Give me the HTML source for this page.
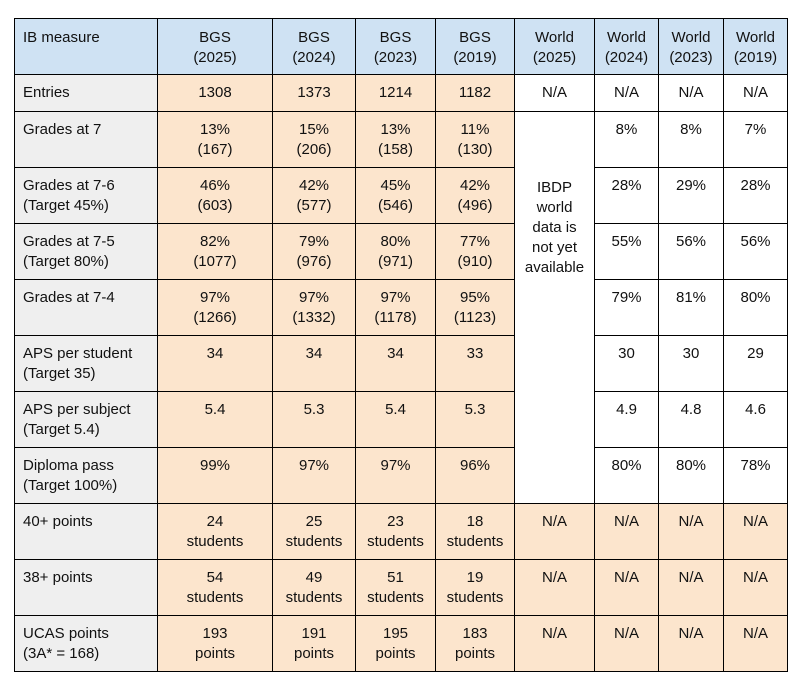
<!DOCTYPE html>
<html><head><meta charset="utf-8"><style>
body{margin:0;background:#fff;width:797px;height:680px;overflow:hidden;font-family:"Liberation Sans",sans-serif;}
table{position:absolute;left:14px;top:18px;border-collapse:collapse;table-layout:fixed;width:773px;}
td{border:1px solid #000;padding:8px 2px 0 2px;vertical-align:top;text-align:center;font-size:15px;line-height:20px;color:#111;}
td.m{text-align:left;padding-left:8px;background:#efefef;}
tr.h td{background:#cfe2f3;padding-top:9px;}
td.b{background:#fce5cd;}
td.w{background:#fff;}
</style></head><body>
<table>
<colgroup><col style="width:143px"><col style="width:115px"><col style="width:83px"><col style="width:80px"><col style="width:79px"><col style="width:80px"><col style="width:64px"><col style="width:65px"><col style="width:64px"></colgroup>
<tr class="h" style="height:56px"><td class="m" style="background:#cfe2f3">IB measure</td><td>BGS<br>(2025)</td><td>BGS<br>(2024)</td><td>BGS<br>(2023)</td><td>BGS<br>(2019)</td><td>World<br>(2025)</td><td>World<br>(2024)</td><td>World<br>(2023)</td><td>World<br>(2019)</td></tr>
<tr style="height:37px"><td class="m">Entries</td><td class="b">1308</td><td class="b">1373</td><td class="b">1214</td><td class="b">1182</td><td class="w">N/A</td><td class="w">N/A</td><td class="w">N/A</td><td class="w">N/A</td></tr>
<tr style="height:56px"><td class="m">Grades at 7</td><td class="b">13%<br>(167)</td><td class="b">15%<br>(206)</td><td class="b">13%<br>(158)</td><td class="b">11%<br>(130)</td><td class="w" rowspan="7" style="padding-top:66px">IBDP<br>world<br>data is<br>not yet<br>available</td><td class="w">8%</td><td class="w">8%</td><td class="w">7%</td></tr>
<tr style="height:56px"><td class="m">Grades at 7-6<br>(Target 45%)</td><td class="b">46%<br>(603)</td><td class="b">42%<br>(577)</td><td class="b">45%<br>(546)</td><td class="b">42%<br>(496)</td><td class="w">28%</td><td class="w">29%</td><td class="w">28%</td></tr>
<tr style="height:56px"><td class="m">Grades at 7-5<br>(Target 80%)</td><td class="b">82%<br>(1077)</td><td class="b">79%<br>(976)</td><td class="b">80%<br>(971)</td><td class="b">77%<br>(910)</td><td class="w">55%</td><td class="w">56%</td><td class="w">56%</td></tr>
<tr style="height:56px"><td class="m">Grades at 7-4</td><td class="b">97%<br>(1266)</td><td class="b">97%<br>(1332)</td><td class="b">97%<br>(1178)</td><td class="b">95%<br>(1123)</td><td class="w">79%</td><td class="w">81%</td><td class="w">80%</td></tr>
<tr style="height:56px"><td class="m">APS per student<br>(Target 35)</td><td class="b">34</td><td class="b">34</td><td class="b">34</td><td class="b">33</td><td class="w">30</td><td class="w">30</td><td class="w">29</td></tr>
<tr style="height:56px"><td class="m">APS per subject<br>(Target 5.4)</td><td class="b">5.4</td><td class="b">5.3</td><td class="b">5.4</td><td class="b">5.3</td><td class="w">4.9</td><td class="w">4.8</td><td class="w">4.6</td></tr>
<tr style="height:56px"><td class="m">Diploma pass<br>(Target 100%)</td><td class="b">99%</td><td class="b">97%</td><td class="b">97%</td><td class="b">96%</td><td class="w">80%</td><td class="w">80%</td><td class="w">78%</td></tr>
<tr style="height:56px"><td class="m">40+ points</td><td class="b">24<br>students</td><td class="b">25<br>students</td><td class="b">23<br>students</td><td class="b">18<br>students</td><td class="b">N/A</td><td class="b">N/A</td><td class="b">N/A</td><td class="b">N/A</td></tr>
<tr style="height:56px"><td class="m">38+ points</td><td class="b">54<br>students</td><td class="b">49<br>students</td><td class="b">51<br>students</td><td class="b">19<br>students</td><td class="b">N/A</td><td class="b">N/A</td><td class="b">N/A</td><td class="b">N/A</td></tr>
<tr style="height:56px"><td class="m">UCAS points<br>(3A* = 168)</td><td class="b">193<br>points</td><td class="b">191<br>points</td><td class="b">195<br>points</td><td class="b">183<br>points</td><td class="b">N/A</td><td class="b">N/A</td><td class="b">N/A</td><td class="b">N/A</td></tr>
</table>
</body></html>
